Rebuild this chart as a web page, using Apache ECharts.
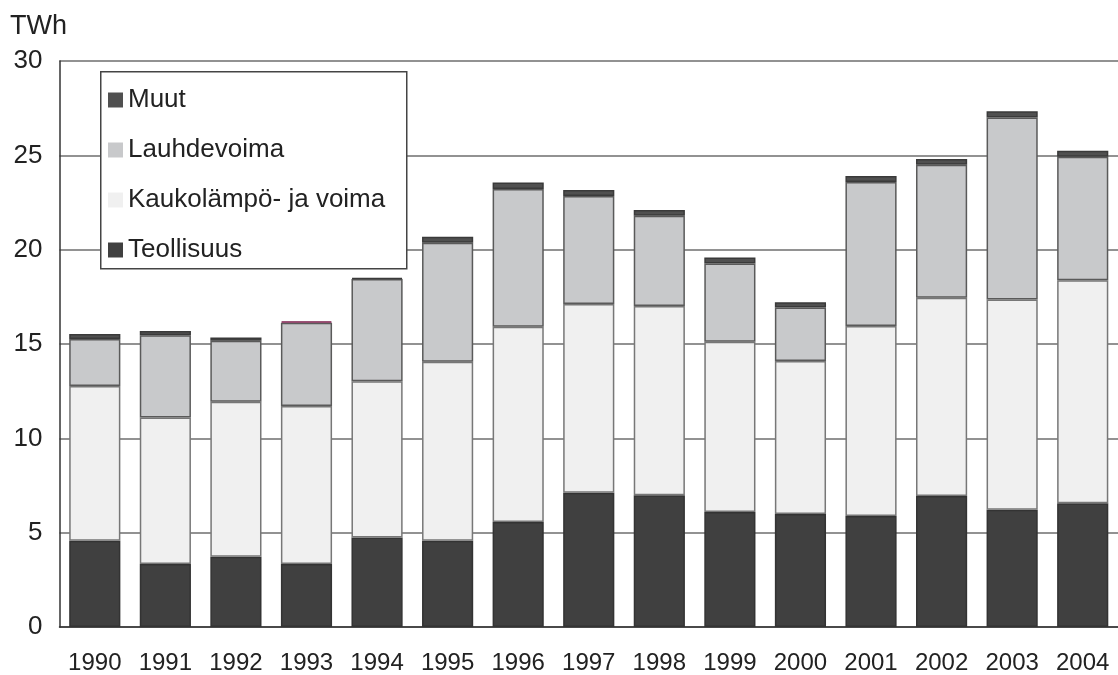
<!DOCTYPE html>
<html>
<head>
<meta charset="utf-8">
<script src="https://cdn.jsdelivr.net/npm/echarts@6/dist/echarts.min.js"></script>
<style>
html,body{margin:0;padding:0;background:#fff;}
#c{width:1118px;height:675px;}
</style>
</head>
<body>
<div id="c"></div>
<script>
const years = ['1990','1991','1992','1993','1994','1995','1996','1997','1998','1999','2000','2001','2002','2003','2004'];
const teollisuus = [4.57, 3.34, 3.73, 3.34, 4.75, 4.57, 5.56, 7.12, 6.98, 6.09, 5.99, 5.88, 6.94, 6.22, 6.56];
const kaukolampo = [8.20, 7.77, 8.21, 8.37, 8.27, 9.49, 10.36, 10.00, 10.03, 9.03, 8.11, 10.08, 10.51, 11.14, 11.82];
const lauhdevoima = [2.49, 4.35, 3.23, 4.42, 5.42, 6.31, 7.29, 5.72, 4.79, 4.15, 2.83, 7.63, 7.05, 9.64, 6.54];
const muut = [0.27, 0.23, 0.18, 0.07, 0.06, 0.31, 0.35, 0.32, 0.30, 0.32, 0.28, 0.31, 0.30, 0.34, 0.32];
const yTicks = [0, 5, 10, 15, 20, 25, 30];

const FONT = 'Liberation Sans, Arial, sans-serif';
const chart = echarts.init(document.getElementById('c'), null, {renderer: 'canvas'});

function bar(name, data, color, border) {
  return {
    name: name, type: 'bar', stack: 'total', data: data,
    barWidth: '72.5%',
    itemStyle: {color: color, borderColor: border, borderWidth: 1.5},
    emphasis: {disabled: true},
    animation: false
  };
}

const muutData = muut.map((v, i) => years[i] === '1993'
  ? {value: v, itemStyle: {color: '#7b1c4b', borderColor: '#7b1c4b'}}
  : v);

chart.setOption({
  animation: false,
  backgroundColor: '#ffffff',
  textStyle: {fontFamily: FONT},
  title: {
    text: 'TWh', left: 5, top: 8,
    textStyle: {fontFamily: FONT, fontSize: 27, fontWeight: 'normal', color: '#222'}
  },
  graphic: [{
    type: 'rect', left: 100, top: 71, z: 10,
    shape: {width: 306, height: 197},
    style: {fill: '#ffffff', stroke: '#444', lineWidth: 1.5}
  }],
  legend: {
    orient: 'vertical', left: 103, top: 82, z: 20,
    data: ['Muut', 'Lauhdevoima', 'Kaukolämpö- ja voima', 'Teollisuus'],
    itemWidth: 15, itemHeight: 15, itemGap: 24,
    icon: 'rect',
    itemStyle: {borderWidth: 0},
    textStyle: {fontFamily: FONT, fontSize: 26, color: '#222', lineHeight: 26},
    selectedMode: false
  },
  grid: {left: 59.5, right: -3.5, top: 61, bottom: 48, containLabel: false},
  xAxis: {
    type: 'category', data: years,
    axisLine: {show: true, lineStyle: {color: '#333', width: 1.5}},
    axisTick: {show: false},
    axisLabel: {fontFamily: FONT, fontSize: 24, color: '#222', margin: 24, interval: 0}
  },
  yAxis: {
    type: 'value', min: 0, max: 30, interval: 5,
    axisLine: {show: true, lineStyle: {color: '#333', width: 1.5}},
    axisTick: {show: false},
    axisLabel: {fontFamily: FONT, fontSize: 26, color: '#222', margin: 17,
      formatter: v => yTicks.includes(v) ? String(v) : ''},
    splitLine: {show: true, lineStyle: {color: '#6e6e6e', width: 1.5}}
  },
  series: [
    bar('Teollisuus', teollisuus, '#404040', '#333333'),
    bar('Kaukolämpö- ja voima', kaukolampo, '#f0f0f0', '#777777'),
    bar('Lauhdevoima', lauhdevoima, '#c8c9cb', '#5a5a5a'),
    bar('Muut', muutData, '#505050', '#3a3a3a')
  ]
});
</script>
</body>
</html>
